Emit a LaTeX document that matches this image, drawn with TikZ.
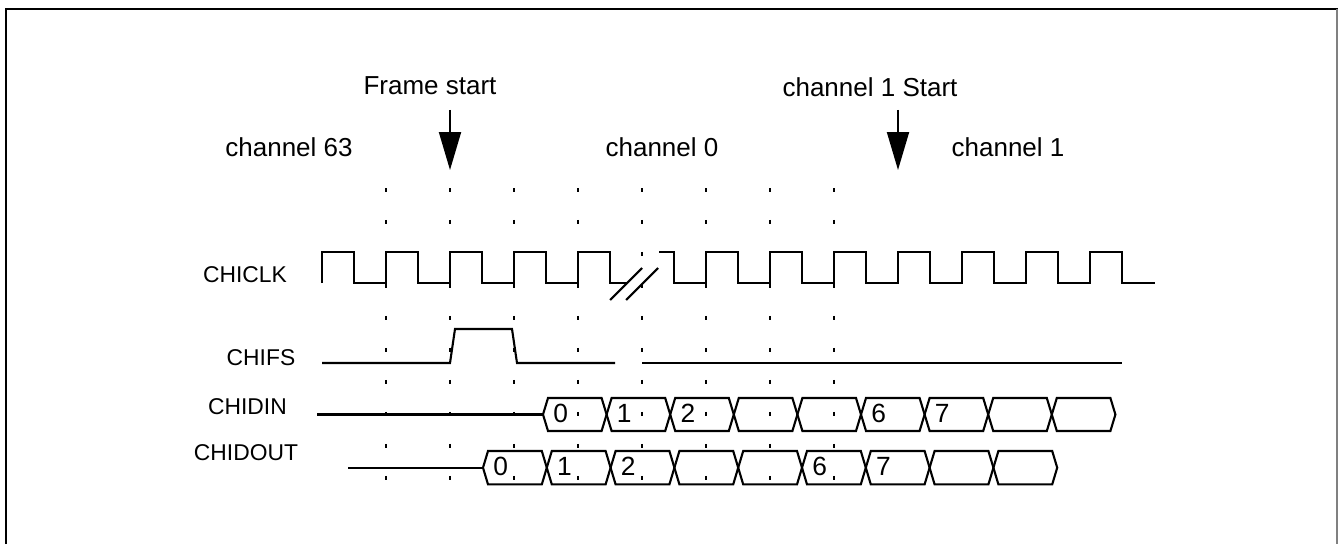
\documentclass[tikz,border=0pt]{standalone}
\usepackage{fontspec}
\setmainfont{Liberation Sans}
\usetikzlibrary{arrows.meta}

\begin{document}
\begin{tikzpicture}[x=0.02cm,y=-0.02cm]
\tikzstyle{every node}=[inner sep=0pt,font=\fontsize{13}{15}\selectfont];
\tikzstyle{sig}=[line width=1.2pt,line join=miter];
\tikzstyle{guide}=[line width=1.1pt,dash pattern=on 0.08cm off 0.56cm];
\tikzstyle{marker}=[line width=1.1pt,-{Triangle[width=0.44cm,length=0.76cm]}];
\tikzstyle{title}=[font=\fontsize{14.8}{17}\selectfont];
\tikzstyle{busval}=[anchor=west,font=\fontsize{15}{17}\selectfont];

\useasboundingbox (0,0) rectangle (1338,544);
% frame
\draw[line width=1.4pt] (6,544) -- (6,9) -- (1338,9);
\draw[gray,line width=0.6pt] (1337,9) -- (1337,544);

% titles
\node[title] (framestart) at (430,86) {Frame start};
\node[title] (chstart) at (870,87) {channel 1 Start};
\node[title] (chlast) at (289,147) {channel 63};
\node[title] (chzero) at (662,147) {channel 0};
\node[title] (chone) at (1008,147) {channel 1};

\coordinate (fsa) at (450,110);
\coordinate (fsb) at (450,170);
\coordinate (csa) at (898,110);
\coordinate (csb) at (898,170);
\draw[marker] (fsa) -- (fsb);
\draw[marker] (csa) -- (csb);

% signal names
\node (clk) at (245,275) {CHICLK};
\node (fs) at (261,358) {CHIFS};
\node (din) at (247.5,407) {CHIDIN};
\node (dout) at (246,453) {CHIDOUT};

% guide columns
\foreach \x in {386,450,...,834}
  \draw[guide] (\x,188) -- (\x,480);

% CHICLK
\draw[sig] (322,283) \foreach \x in {322,386,...,514} { -- (\x,252) -- (\x+32,252) -- (\x+32,283) -- (\x+64,283) }
  -- (578,252) -- (610,252) -- (610,283) -- (627,283);
\draw[sig] (659,252) -- (674,252) -- (674,283) \foreach \x in {706,770,...,1090} { -- (\x,283) -- (\x,252) -- (\x+32,252) -- (\x+32,283) }
  -- (1155,283);
\draw[sig] (610,300) -- (642,268);
\draw[sig] (626,300) -- (658,268);

% CHIFS
\draw[sig] (322,363) -- (450,363) -- (455,329) -- (512,329) -- (517,363) -- (615,363);
\draw[sig] (642,363) -- (1122,363);

% CHIDIN
\draw[sig] (317,414.5) -- (543,414.5);
\foreach \i in {0,...,8} {
  \pgfmathsetmacro{\a}{543+63.6*\i}
  \pgfmathsetmacro{\b}{\a+63.6}
  \draw[sig] (\a,414.5) -- (\a+5,398) -- (\b-5,398) -- (\b,414.5) -- (\b-5,431) -- (\a+5,431) -- cycle;
}
\foreach \i/\lab in {0/0,1/1,2/2,5/6,6/7} {
  \pgfmathsetmacro{\a}{543+63.6*\i}
  \node[busval] (din\i) at (\a+10,413) {\lab};
}

% CHIDOUT
\draw[sig] (348,467.7) -- (483,467.7);
\foreach \i in {0,...,8} {
  \pgfmathsetmacro{\a}{483+63.8*\i}
  \pgfmathsetmacro{\b}{\a+63.8}
  \draw[sig] (\a,467.7) -- (\a+5,451) -- (\b-5,451) -- (\b,467.7) -- (\b-5,484.4) -- (\a+5,484.4) -- cycle;
}
\foreach \i/\lab in {0/0,1/1,2/2,5/6,6/7} {
  \pgfmathsetmacro{\a}{483+63.8*\i}
  \node[busval] (dout\i) at (\a+10,466) {\lab};
}
\end{tikzpicture}
\end{document}
